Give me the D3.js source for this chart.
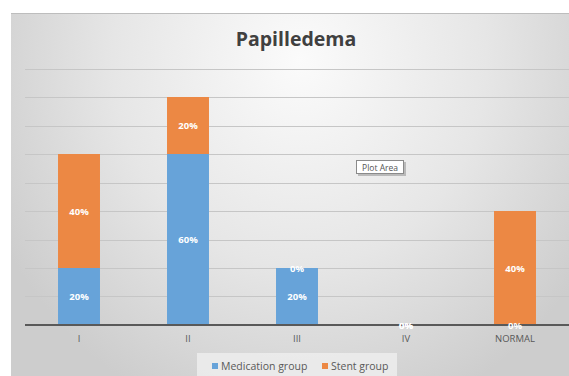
<!DOCTYPE html>
<html><head><meta charset="utf-8">
<script src="https://cdn.jsdelivr.net/npm/d3@7"></script>
<style>body{margin:0;background:#fff;}svg{display:block;}</style>
</head><body>
<svg id="chart" width="569" height="376"></svg>
<script>
const title = "Papilledema";
const categories = ["I", "II", "III", "IV", "NORMAL"];
const medication = [0.20, 0.60, 0.20, 0.00, 0.00];
const stent = [0.40, 0.20, 0.00, 0.00, 0.40];
const seriesNames = ["Medication group", "Stent group"];
const yTicks = [0.1, 0.2, 0.3, 0.4, 0.5, 0.6, 0.7, 0.8, 0.9];

const colors = ["#67a3d9", "#ec8844"];
const svg = d3.select("#chart");
const W = 569, H = 376;

const defs = svg.append("defs");
const rg = defs.append("radialGradient").attr("id","bg")
  .attr("gradientUnits","userSpaceOnUse").attr("cx",300).attr("cy",60).attr("r",340)
  .attr("gradientTransform","translate(300,60) scale(1,1.1) translate(-300,-60)");
rg.append("stop").attr("offset","0").attr("stop-color","#fbfbfb");
rg.append("stop").attr("offset","0.55").attr("stop-color","#e6e6e6");
rg.append("stop").attr("offset","1").attr("stop-color","#cdcdcd");

svg.append("rect").attr("x",11).attr("y",13).attr("width",W-11).attr("height",H-13).attr("fill","url(#bg)");
svg.append("line").attr("x1",11).attr("x2",W).attr("y1",13.5).attr("y2",13.5).attr("stroke","#bdbdbd").attr("stroke-width",1);

svg.append("text").attr("x",296).attr("y",46).attr("text-anchor","middle")
  .attr("font-family","Open Sans, sans-serif").attr("font-weight","bold").attr("font-size",19.5)
  .attr("fill","#404040").text(title);

const x = d3.scaleBand().domain(categories).range([24.5, 569.5]).paddingInner(0.615).paddingOuter(0.3075);
const y = d3.scaleLinear().domain([0, 0.9]).range([325, 68.5]);

const g = svg.append("g");
g.selectAll("line.grid").data(yTicks).join("line").attr("class","grid")
  .attr("x1",25).attr("x2",W).attr("y1",d=>Math.round(y(d))+0.5).attr("y2",d=>Math.round(y(d))+0.5)
  .attr("stroke","#c6c6c6").attr("stroke-width",1);

const stackData = categories.map((c,i)=>({cat:c, med:medication[i], stent:stent[i]}));
const stack = d3.stack().keys(["med","stent"])(stackData);

stack.forEach((s,si)=>{
  g.selectAll("rect.s"+si).data(s).join("rect")
    .attr("x",d=>x(d.data.cat)).attr("width",x.bandwidth())
    .attr("y",d=>y(d[1])).attr("height",d=>y(d[0])-y(d[1]))
    .attr("fill",colors[si]);
});

// axis line
const axis = g.append("g").attr("transform","translate(0,325)")
  .call(d3.axisBottom(x).tickSize(0).tickPadding(10));
axis.select(".domain").attr("stroke","#595959").attr("stroke-width",2.2).attr("d","M25,0H569");
axis.selectAll("text").attr("font-family","Open Sans, sans-serif").attr("font-size",9.5).attr("fill","#595959");

// data labels
stack.forEach((s,si)=>{
  g.selectAll("text.l"+si).data(s).join("text")
    .attr("x",d=>x(d.data.cat)+x.bandwidth()/2)
    .attr("y",d=>(y(d[0])+y(d[1]))/2+3.5)
    .attr("text-anchor","middle")
    .attr("font-family","Open Sans, sans-serif").attr("font-weight","bold").attr("font-size",9.5)
    .attr("fill","#ffffff")
    .text(d=>Math.round((d[1]-d[0])*100)+"%");
});

// legend
const lg = svg.append("g");
lg.append("rect").attr("x",197).attr("y",353).attr("width",200).attr("height",23).attr("fill","#efefef").attr("opacity",0.8);
const items = [{n:seriesNames[0],x:212},{n:seriesNames[1],x:322}];
items.forEach((it,i)=>{
  lg.append("rect").attr("x",it.x).attr("y",363).attr("width",6).attr("height",6).attr("fill",colors[i]);
  lg.append("text").attr("x",it.x+9).attr("y",370).attr("font-family","Open Sans, sans-serif")
    .attr("font-size",10.5).attr("fill","#595959").text(it.n);
});

// tooltip
const tt = svg.append("g");
tt.append("rect").attr("x",358).attr("y",162).attr("width",48).attr("height",14).attr("fill","#9a9a9a").attr("opacity",0.6);
tt.append("rect").attr("x",356.5).attr("y",160.5).attr("width",47).attr("height",13).attr("fill","#ffffff").attr("stroke","#8a8a8a").attr("stroke-width",1);
tt.append("text").attr("x",380).attr("y",170.5).attr("text-anchor","middle").attr("font-family","Open Sans, sans-serif")
  .attr("font-size",8.5).attr("fill","#555").text("Plot Area");
</script>
</body></html>
